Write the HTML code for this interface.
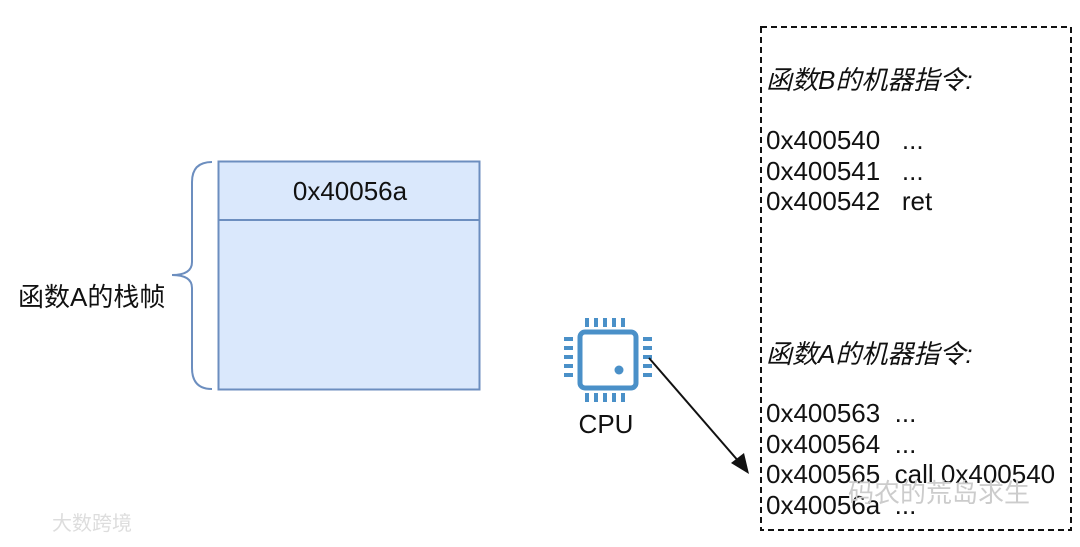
<!DOCTYPE html>
<html><head><meta charset="utf-8"><style>
body{margin:0;background:#fff;width:1080px;height:542px;overflow:hidden}
svg text{font-family:"Liberation Sans","Noto Sans CJK SC",sans-serif;font-size:26px;fill:#111;white-space:pre}
</style></head><body>
<svg width="1080" height="542" viewBox="0 0 1080 542">
<rect x="218.5" y="161.5" width="261" height="228" fill="#dae8fc" stroke="#6c8ebf" stroke-width="2"/>
<line x1="218" y1="220" x2="480" y2="220" stroke="#6c8ebf" stroke-width="2"/>
<text x="350" y="200" text-anchor="middle">0x40056a</text>
<path d="M212 162 Q192 162 192 182 L192 262 Q192 275 172 275 Q192 275 192 288 L192 368 Q192 389 212 389" fill="none" stroke="#6c8ebf" stroke-width="2"/>
<text x="18" y="306">函数A的栈帧</text>
<rect x="761" y="27" width="310" height="503" fill="none" stroke="#111" stroke-width="2" stroke-dasharray="6,4"/>
<text x="766" y="89" font-style="italic">函数B的机器指令:</text>
<text x="766" y="149">0x400540   ...</text>
<text x="766" y="180">0x400541   ...</text>
<text x="766" y="210">0x400542   ret</text>
<text x="766" y="363" font-style="italic">函数A的机器指令:</text>
<text x="766" y="422">0x400563  ...</text>
<text x="766" y="453">0x400564  ...</text>
<text x="766" y="483">0x400565  call 0x400540</text>
<text x="766" y="514">0x40056a  ...</text>
<g fill="#4a90c8">
<rect x="580" y="332" width="56" height="56" rx="5" fill="none" stroke="#4a90c8" stroke-width="5"/>
<circle cx="619" cy="370" r="4.5"/>
<g id="p"><rect x="585" y="318" width="4" height="9"/><rect x="594" y="318" width="4" height="9"/><rect x="603" y="318" width="4" height="9"/><rect x="612" y="318" width="4" height="9"/><rect x="621" y="318" width="4" height="9"/></g>
<use href="#p" y="75"/>
<g id="s"><rect x="564" y="337" width="9" height="4"/><rect x="564" y="346" width="9" height="4"/><rect x="564" y="355" width="9" height="4"/><rect x="564" y="364" width="9" height="4"/><rect x="564" y="373" width="9" height="4"/></g>
<use href="#s" x="79"/>
</g>
<text x="606" y="433" text-anchor="middle">CPU</text>
<line x1="649" y1="358" x2="740" y2="463" stroke="#111" stroke-width="2"/>
<polygon points="749,474 731,463 744,453" fill="#111"/>
<text x="848" y="502" style="fill:#ccc;font-size:26px">码农的荒岛求生</text>
<text x="52" y="530" style="fill:#ddd;font-size:20px">大数跨境</text>
</svg>
</body></html>
